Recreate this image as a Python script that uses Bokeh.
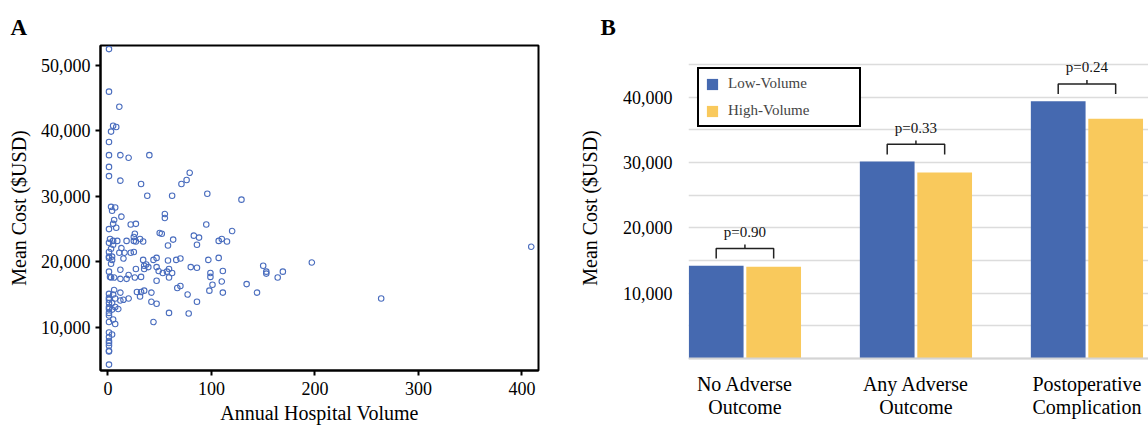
import numpy as np
from bokeh.plotting import figure
from bokeh.layouts import row
from bokeh.models import (Range1d, FixedTicker, NumeralTickFormatter, Legend, LegendItem, Span)
from bokeh.embed import file_html
from bokeh.resources import INLINE
from bokeh.core.properties import value

# ---------------- Panel A data: annual hospital volume vs mean cost ----------------
volume = [1, 1, 1, 1, 1, 1, 1, 1, 1, 1, 1, 1, 1, 1, 1, 1, 1, 1, 1, 1, 1, 1, 1, 1, 1, 1, 1, 1, 1,
          2, 2,
          3, 4, 7, 5, 8, 3, 5, 6, 8, 5, 9, 5, 3, 4, 4, 3, 3, 6, 6, 5, 4, 4, 7, 7, 10, 5, 7, 4,
          11, 12, 20, 40, 12, 32, 38, 62, 71, 76, 79, 96, 129, 13, 55, 55, 22, 27, 95, 50, 52,
          26, 25, 18, 25, 31, 34, 27, 83, 88, 86, 63, 58, 120, 107, 110, 115, 13, 11, 16, 22,
          25, 15, 34, 44, 47, 58, 66, 70, 97, 107, 27, 12, 35, 37, 39, 35, 47, 49, 53, 57, 59,
          62, 59, 47, 80, 86, 99, 99, 111, 110, 98, 101, 111, 134, 12, 20, 18, 26, 32, 67, 70,
          77, 86, 78, 12, 28, 32, 35, 31, 42, 12, 15, 20, 42, 47, 59, 44, 150, 153, 153, 169,
          164, 197, 144, 264, 409]
cost = [52500, 46000, 38300, 36300, 34500, 33100, 25000, 22900, 21500, 20800, 20600, 18500,
        15100, 14500, 14200, 13700, 13100, 12800, 12200, 11800, 10800, 9200, 8500, 7900, 7600,
        7200, 6400, 6300, 4300,
        23500, 17700,
        28400, 27800, 28300, 40800, 40600, 39900, 25800, 26400, 25200, 23200, 23200, 22600,
        22000, 20800, 20300, 19700, 17600, 17600, 15700, 15000, 13700, 12700, 14400, 13100,
        12800, 11200, 10500, 8900,
        43700, 36300, 35900, 36300, 32400, 31900, 30100, 30100, 31900, 32500, 33600, 30400,
        29500, 26900, 27300, 26700, 25700, 25800, 25700, 24400, 24300, 24300, 23800, 23200,
        23200, 23500, 23100, 23100, 24000, 23700, 22600, 23400, 22500, 24700, 23200, 23500,
        23100, 22100, 21400, 21400, 21400, 21500, 20500, 20300, 20300, 20600, 20200, 20300,
        20500, 20300, 20600, 18900, 18800, 19400, 19600, 19200, 18900, 19200, 18600, 18300,
        18500, 18900, 18300, 17600, 17100, 19200, 19100, 18300, 17700, 18600, 17000, 15600,
        16500, 15300, 16600, 17400, 18000, 17400, 17600, 17700, 16000, 16300, 15000, 13900,
        12100, 15300, 15400, 15400, 15600, 14700, 15300, 14100, 14200, 14400, 13900, 13600,
        12200, 10800, 19400, 18500, 18200, 18500, 17600, 19900, 15300, 14400, 22300]

a_xticks = [0, 100, 200, 300, 400]
a_yticks = [10000, 20000, 30000, 40000, 50000]

# ---------------- Panel B data: mean cost by outcome and volume ----------------
categories = ["No Adverse\nOutcome", "Any Adverse\nOutcome", "Postoperative\nComplication"]
low_volume = [14200, 30150, 39400]
high_volume = [14050, 28500, 36700]
p_values = ["p=0.90", "p=0.33", "p=0.24"]
b_yticks = [10000, 20000, 30000, 40000]
b_grid = [0, 5000, 10000, 15000, 20000, 25000, 30000, 35000, 40000, 45000]

SERIF = "Liberation Serif"
BLUE = "#4569B0"
YELLOW = "#F9C95C"
DOT = "#4A6DBE"


def panel_title(p, letter, offset):
    p.title.text = letter
    p.title.align = "left"
    p.title.offset = offset
    p.title.standoff = 12
    p.title.text_font = SERIF
    p.title.text_font_size = "23px"
    p.title.text_font_style = "bold"
    p.title.text_color = "black"


# ---------------- Panel A ----------------
pa = figure(width=575, height=428, x_range=Range1d(-7.2, 416), y_range=Range1d(3400, 53050),
            output_backend="svg", toolbar_location=None,
            min_border_left=100, min_border_right=37, min_border_top=45, min_border_bottom=58)
pa.scatter(volume, cost, marker="circle", size=5.5, fill_color=None, line_color=DOT,
           line_width=1.1)
pa.xgrid.visible = False
pa.ygrid.visible = False
pa.outline_line_color = "black"
pa.outline_line_width = 2
pa.outline_line_alpha = 1.0
pa.background_fill_color = "white"
pa.border_fill_color = "white"
for ax in (pa.xaxis[0], pa.yaxis[0]):
    ax.axis_line_color = "black"
    ax.axis_line_width = 2
    ax.major_tick_line_color = "black"
    ax.major_tick_line_width = 2
    ax.major_tick_out = 5
    ax.major_tick_in = 0
    ax.minor_tick_line_color = None
    ax.major_label_text_font = SERIF
    ax.major_label_text_font_size = "18px"
    ax.major_label_text_color = "black"
    ax.axis_label_text_font = SERIF
    ax.axis_label_text_font_size = "20px"
    ax.axis_label_text_font_style = "normal"
    ax.axis_label_text_color = "black"
pa.xaxis.ticker = FixedTicker(ticks=a_xticks)
pa.yaxis.ticker = FixedTicker(ticks=a_yticks)
pa.yaxis.formatter = NumeralTickFormatter(format="0,0")
pa.xaxis.axis_label = "Annual Hospital Volume"
pa.yaxis.axis_label = "Mean Cost ($USD)"
pa.xaxis.major_label_standoff = 6
pa.xaxis.axis_label_standoff = 4
pa.yaxis.major_label_standoff = 5
pa.yaxis.axis_label_standoff = 8
panel_title(pa, "A", -90)

# ---------------- Panel B ----------------
idx = np.arange(len(categories))
off = 0.168
bw = 0.32
pb = figure(width=573, height=428, x_range=Range1d(-0.330, 2.36), y_range=Range1d(-1840, 47930),
            output_backend="svg", toolbar_location=None,
            min_border_left=113, min_border_right=0, min_border_top=45, min_border_bottom=58)
r_low = pb.vbar(x=idx - off, top=low_volume, width=bw, fill_color=BLUE, line_color=None)
r_high = pb.vbar(x=idx + off, top=high_volume, width=bw, fill_color=YELLOW, line_color=None)
pb.add_layout(Span(location=0, dimension="width", line_color="#d4d4d4", line_width=2))

tops = np.maximum(low_volume, high_volume)
xs, ys = [], []
for i, m in zip(idx, tops):
    xs.append([i - off, i - off, i + off, i + off])
    ys.append([m + 1100, m + 2650, m + 2650, m + 1100])
    xs.append([i, i])
    ys.append([m + 2650, m + 3250])
pb.multi_line(xs, ys, line_color="#222222", line_width=1.5)
pb.text(x=idx, y=tops + 5200, text=p_values, text_align="center", text_baseline="middle",
        text_font=value(SERIF), text_font_size="15px", text_color="#111111")

pb.outline_line_color = None
pb.background_fill_color = "white"
pb.border_fill_color = "white"
pb.xgrid.visible = False
pb.ygrid.ticker = FixedTicker(ticks=b_grid)
pb.ygrid.grid_line_color = "#dcdcdc"
pb.ygrid.grid_line_width = 1.5
pb.yaxis.ticker = FixedTicker(ticks=b_yticks)
pb.yaxis.formatter = NumeralTickFormatter(format="0,0")
pb.yaxis.axis_line_color = None
pb.yaxis.major_tick_line_color = None
pb.yaxis.major_tick_out = 0
pb.yaxis.major_tick_in = 0
pb.yaxis.minor_tick_line_color = None
pb.yaxis.minor_tick_out = 0
pb.yaxis.major_label_standoff = 16
pb.yaxis.axis_label = "Mean Cost ($USD)"
pb.yaxis.axis_label_standoff = 19
pb.xaxis.ticker = FixedTicker(ticks=list(idx))
pb.xaxis.major_label_overrides = {int(i): c for i, c in zip(idx, categories)}
pb.xaxis.axis_line_color = None
pb.xaxis.major_tick_line_color = None
pb.xaxis.major_tick_out = 0
pb.xaxis.major_tick_in = 0
pb.xaxis.minor_tick_line_color = None
pb.xaxis.minor_tick_out = 0
pb.xaxis.major_label_standoff = 2
pb.xaxis.major_label_text_line_height = 1.05
for ax in (pb.xaxis[0], pb.yaxis[0]):
    ax.major_label_text_font = SERIF
    ax.major_label_text_color = "black"
    ax.axis_label_text_font = SERIF
    ax.axis_label_text_font_size = "20px"
    ax.axis_label_text_font_style = "normal"
    ax.axis_label_text_color = "black"
pb.yaxis.major_label_text_font_size = "18px"
pb.xaxis.major_label_text_font_size = "20px"
panel_title(pb, "B", -88)

legend = Legend(items=[LegendItem(label="Low-Volume", renderers=[r_low]),
                       LegendItem(label="High-Volume", renderers=[r_high])],
                location=(9, 243), border_line_color="black", border_line_width=2.5,
                border_line_alpha=1.0,
                background_fill_color="white", background_fill_alpha=1.0,
                glyph_width=14, glyph_height=14, label_height=14, label_width=125,
                label_standoff=9, spacing=10, padding=6, margin=0,
                label_text_font=SERIF, label_text_font_size="15px")
pb.add_layout(legend)

layout = row(pa, pb)
open("out.html", "w").write(file_html(layout, INLINE))
